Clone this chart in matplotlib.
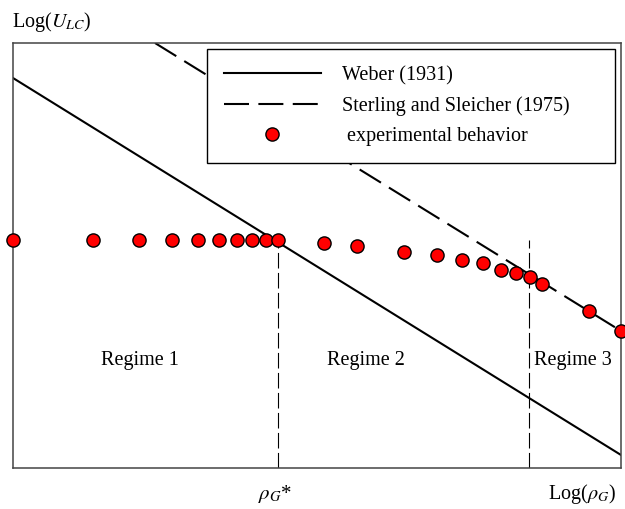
import matplotlib.pyplot as plt

plt.rcParams['font.family'] = 'Liberation Serif'
plt.rcParams['mathtext.fontset'] = 'stix'

# experimental points (arbitrary log units)
exp_x = [0, 80, 126, 159, 185, 206, 224, 239, 253, 265,
         311, 344, 391, 424, 449, 470, 488, 503, 517, 529, 576, 608]
exp_y = [228, 228, 228, 228, 228, 228, 228, 228, 228, 228,
         225, 222, 216, 213, 208, 205, 198, 195, 191, 184, 157, 137]

weber_x = [0, 608]
weber_y = [390, 13]
sterling_x = [142, 608]
sterling_y = [425, 137]

rho_star = 265
rho_3 = 516
regimes = ["Regime 1", "Regime 2", "Regime 3"]
regime_x = [127, 353, 560]
regime_y = 107

fig = plt.figure(figsize=(6.25, 5.09), dpi=100)
ax = fig.add_axes([13/625, 41/509, 608/625, 425/509])

ax.plot(weber_x, weber_y, color='black', lw=1.5, label='Weber (1931)')
ax.plot(sterling_x, sterling_y, color='black', lw=1.5, dashes=(12, 4.5),
        label='Sterling and Sleicher (1975)')
ax.plot(exp_x, exp_y, 'o', color='red', mec='black', mew=1, ms=9.5,
        clip_on=False, zorder=5, label=' experimental behavior')

ax.plot([rho_star, rho_star], [0, 228], color='black', lw=0.8, dashes=(14, 4))
ax.plot([rho_3, rho_3], [0, 228], color='black', lw=0.8, dashes=(14, 4))

for name, x in zip(regimes, regime_x):
    ax.text(x, regime_y, name, fontsize=14.5, ha='center', va='center')

ax.set_xlim(0, 608)
ax.set_ylim(0, 425)
ax.set_xticks([])
ax.set_yticks([])
for s in ax.spines.values():
    s.set_color('#444444')
    s.set_linewidth(1.1)

leg = ax.legend(loc='upper left', bbox_to_anchor=(194/608, 0, 408/608, 419/425),
                mode='expand', fontsize=14.5, handlelength=4.8, handletextpad=1.05,
                labelspacing=0.55, borderpad=0.85, numpoints=1,
                fancybox=False, framealpha=1, borderaxespad=0)
leg.get_frame().set_edgecolor('black')
leg.get_frame().set_linewidth(1.0)

fig.text(12/625, 1 - 22/509, 'Log($U_{LC}$)', fontsize=14.5, ha='left', va='center')
fig.text(275/625, 1 - 494/509, r'$\rho_G$*', fontsize=15, ha='center', va='center')
fig.text(582/625, 1 - 494/509, r'Log($\rho_G$)', fontsize=14.5, ha='center', va='center')

fig.savefig('out.png', dpi=100)
